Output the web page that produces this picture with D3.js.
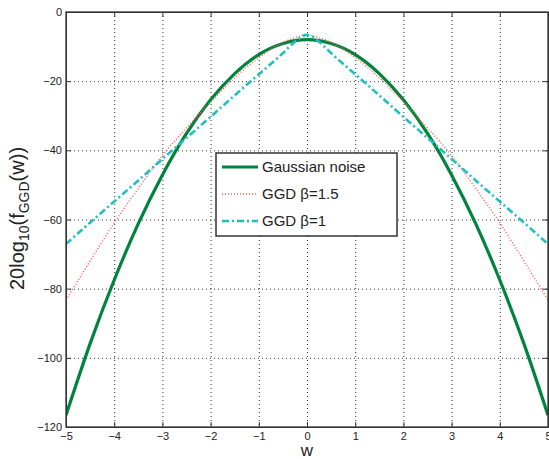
<!DOCTYPE html>
<html>
<head>
<meta charset="utf-8">
<script src="https://cdn.jsdelivr.net/npm/d3@7"></script>
<style>
  body { margin: 0; background: #fff; }
  text { font-family: "Liberation Sans", Arial, sans-serif; fill: #222; }
</style>
</head>
<body>
<div id="chart"></div>
<script>
// data
var wVals = [-5, -4.5, -4, -3.5, -3, -2.5, -2, -1.5, -1, -0.5, -0.25, 0, 0.25, 0.5, 1, 1.5, 2, 2.5, 3, 3.5, 4, 4.5, 5];
var gaussian = [-116.6, -95.9, -77.5, -61.2, -47.1, -35.1, -25.4, -17.8, -12.3, -9.1, -8.3, -8.0, -8.3, -9.1, -12.3, -17.8, -25.4, -35.1, -47.1, -61.2, -77.5, -95.9, -116.6];
var ggd15 = [-83.3, -72.0, -61.0, -51.0, -41.5, -33.5, -26.0, -19.0, -13.2, -8.8, -7.4, -6.6, -7.4, -8.8, -13.2, -19.0, -26.0, -33.5, -41.5, -51.0, -61.0, -72.0, -83.3];
var ggd1 = [-67.1, -60.9, -54.8, -48.7, -42.5, -36.4, -30.3, -24.1, -18.0, -11.9, -8.6, -6.6, -8.6, -11.9, -18.0, -24.1, -30.3, -36.4, -42.5, -48.7, -54.8, -60.9, -67.1];
var xTicks = [-5, -4, -3, -2, -1, 0, 1, 2, 3, 4, 5];
var yTicks = [0, -20, -40, -60, -80, -100, -120];
var seriesNames = ["Gaussian noise", "GGD \u03b2=1.5", "GGD \u03b2=1"];

var svgWidth = 549;
var svgHeight = 459;
var margin = { top: 12, right: 1, bottom: 32, left: 66 };
var width = svgWidth - margin.left - margin.right;
var height = svgHeight - margin.top - margin.bottom;

var svg = d3.select("#chart")
  .append("svg")
  .attr("width", svgWidth)
  .attr("height", svgHeight);

var chartGroup = svg.append("g")
  .attr("transform", `translate(${margin.left}, ${margin.top})`);

var x = d3.scaleLinear().domain([-5, 5]).range([0, width]);
var y = d3.scaleLinear().domain([-120, 0]).range([height, 0]);

// grid
chartGroup.append("g")
  .call(d3.axisBottom(x).tickValues(xTicks).tickSize(height).tickFormat(""))
  .call(g => g.select(".domain").remove())
  .selectAll("line")
  .attr("stroke", "#b8b8b8")
  .attr("stroke-dasharray", "1,3");

chartGroup.append("g")
  .call(d3.axisLeft(y).tickValues(yTicks).tickSize(-width).tickFormat(""))
  .call(g => g.select(".domain").remove())
  .selectAll("line")
  .attr("stroke", "#b8b8b8")
  .attr("stroke-dasharray", "1,3");

// clip
svg.append("defs").append("clipPath").attr("id", "clip")
  .append("rect").attr("width", width).attr("height", height);

var line = d3.line()
  .x((d, i) => x(wVals[i]))
  .y(d => y(d))
  .curve(d3.curveMonotoneX);

var styles = [
  { data: gaussian, color: "#00843d", width: 3.2, dash: null },
  { data: ggd15, color: "#ff5a5a", width: 1.5, dash: "1,2" },
  { data: ggd1, color: "#1fbfbf", width: 2.6, dash: "7,3,2,3" }
];

var plotG = chartGroup.append("g").attr("clip-path", "url(#clip)");
styles.forEach(function (s) {
  plotG.append("path")
    .datum(s.data)
    .attr("d", line)
    .attr("fill", "none")
    .attr("stroke", s.color)
    .attr("stroke-width", s.width)
    .attr("stroke-dasharray", s.dash);
});

// axes with inward ticks on all sides
var tickLen = 5;
var bottomAxis = d3.axisBottom(x).tickValues(xTicks).tickSizeInner(-tickLen).tickSizeOuter(0);
var leftAxis = d3.axisLeft(y).tickValues(yTicks).tickSizeInner(-tickLen).tickSizeOuter(0).tickPadding(9);

chartGroup.append("g")
  .attr("transform", `translate(0, ${height})`)
  .call(bottomAxis)
  .call(g => g.selectAll("text").style("font-size", "11px").attr("fill", "#222").attr("y", 13).attr("dy", null));

chartGroup.append("g")
  .call(leftAxis)
  .call(g => g.selectAll("text").style("font-size", "11px").attr("fill", "#222").attr("x", -4));

chartGroup.append("g")
  .call(d3.axisTop(x).tickValues(xTicks).tickSizeInner(-tickLen).tickSizeOuter(0).tickFormat(""));

chartGroup.append("g")
  .attr("transform", `translate(${width}, 0)`)
  .call(d3.axisRight(y).tickValues(yTicks).tickSizeInner(-tickLen).tickSizeOuter(0).tickFormat(""));

chartGroup.selectAll(".domain, .tick line").attr("stroke", "#333");

chartGroup.append("rect")
  .attr("width", width)
  .attr("height", height)
  .attr("fill", "none")
  .attr("stroke", "#333")
  .attr("stroke-width", 1.3);

// legend
var legend = chartGroup.append("g")
  .attr("transform", `translate(${216 - margin.left}, ${153 - margin.top})`);

legend.append("rect")
  .attr("width", 181)
  .attr("height", 83)
  .attr("fill", "#fff")
  .attr("stroke", "#333")
  .attr("stroke-width", 1.5);

styles.forEach(function (s, i) {
  var ly = 14 + i * 27;
  legend.append("line")
    .attr("x1", 6).attr("x2", 42)
    .attr("y1", ly).attr("y2", ly)
    .attr("stroke", s.color)
    .attr("stroke-width", s.width)
    .attr("stroke-dasharray", s.dash);
  legend.append("text")
    .attr("x", 46)
    .attr("y", ly)
    .attr("dy", "0.35em")
    .style("font-size", "15px")
    .text(seriesNames[i]);
});

// axis labels
svg.append("text")
  .attr("x", margin.left + width / 2)
  .attr("y", 456)
  .attr("text-anchor", "middle")
  .style("font-size", "17px")
  .text("w");

var yl = svg.append("text")
  .attr("transform", "translate(24, 290) rotate(-90)")
  .style("font-size", "20px");
yl.append("tspan").text("20log");
yl.append("tspan").attr("dy", 5).style("font-size", "14px").text("10");
yl.append("tspan").attr("dy", -5).text("(f");
yl.append("tspan").attr("dy", 5).style("font-size", "14px").text("GGD");
yl.append("tspan").attr("dy", -5).text("(w))");
</script>
</body>
</html>
